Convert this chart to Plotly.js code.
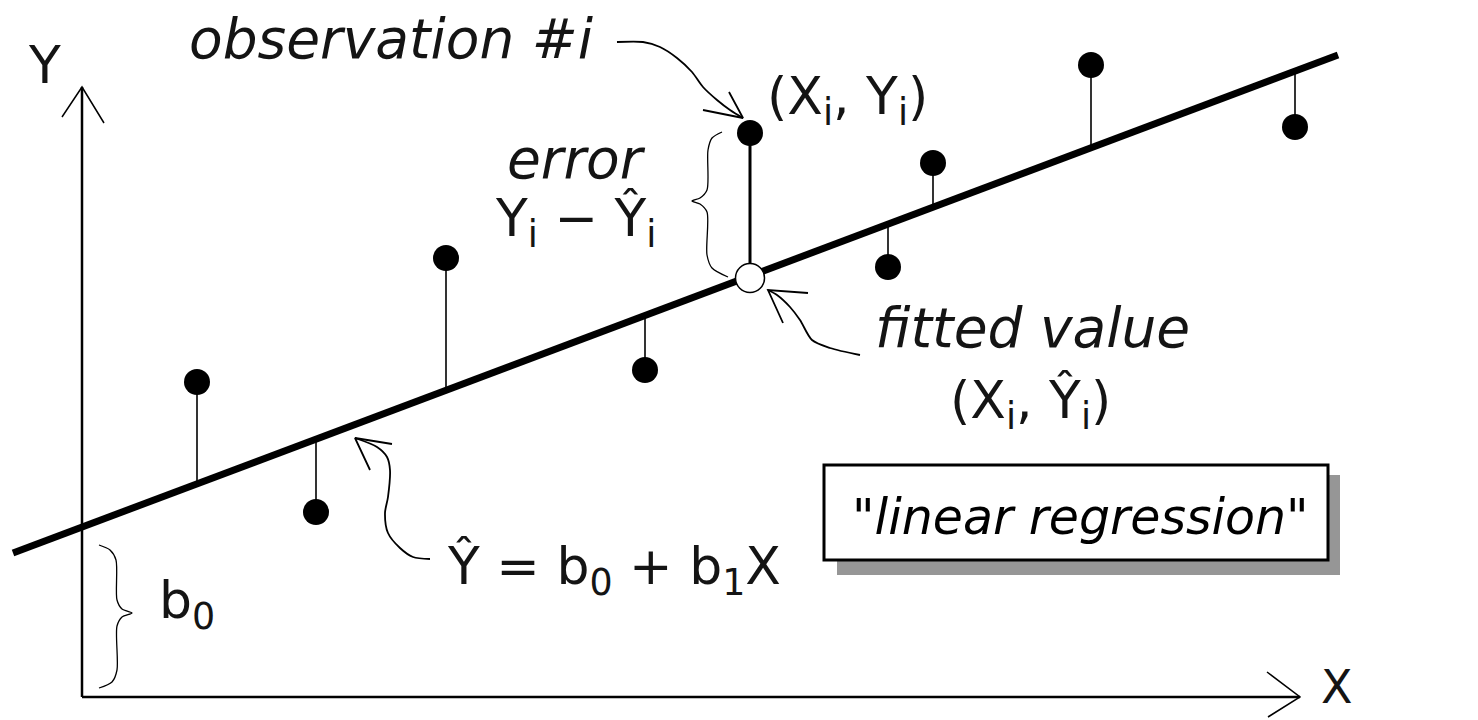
<!DOCTYPE html>
<html>
<head>
<meta charset="utf-8">
<script src="https://cdn.plot.ly/plotly-3.0.1.min.js"></script>
<style>
  html, body { margin: 0; padding: 0; background: #fff; }
  #regChart { width: 1478px; height: 720px; }
</style>
</head>
<body>
<div id="regChart"></div>
<script>
// observations (X_i, Y_i) and the fitted values under each of them
var obsX = [1.15, 2.34, 3.64, 5.63, 6.68, 8.06, 8.51, 10.09, 12.13];
var obsY = [3.15, 1.85, 4.39, 3.27, 5.64, 4.30, 5.34, 6.32, 5.70];
var fitY = [2.13, 2.58, 3.07, 3.82, 4.19, 4.73, 4.90, 5.49, 6.26];
var iObs = 4;   // "observation #i"

// regression line ends
var lineX = [-0.69, 12.56];
var lineY = [1.44, 6.42];

// axes (origin at 0,0) and their open arrow heads
var axisX = [0, 0, null, 0, 12.18];
var axisY = [6.10, 0, null, 0, 0];
var headX = [-0.20, 0, 0.22, null, 11.85, 12.18, 11.86];
var headY = [5.80, 6.10, 5.74, null, 0.25, 0, -0.20];

// curly braces: error and intercept b0
var braceErrX = [6.40, 6.30, 6.26, 6.25, 6.18, 6.10, 6.18, 6.25, 6.25, 6.30, 6.46];
var braceErrY = [5.65, 5.59, 5.47, 5.07, 4.99, 4.96, 4.93, 4.85, 4.42, 4.29, 4.20];
var braceB0X = [0.17, 0.28, 0.34, 0.35, 0.40, 0.50, 0.40, 0.35, 0.35, 0.30, 0.17];
var braceB0Y = [1.52, 1.47, 1.37, 0.97, 0.88, 0.84, 0.80, 0.71, 0.27, 0.15, 0.09];

// hand drawn pointer curves
var ptrObsX = [5.35, 5.61, 5.78, 5.95, 6.10, 6.21, 6.35, 6.48, 6.61];
var ptrObsY = [6.55, 6.55, 6.50, 6.39, 6.25, 6.10, 5.97, 5.87, 5.79];
var ptrObsHeadX = [6.21, 6.61, 6.47];
var ptrObsHeadY = [5.87, 5.79, 6.05];

var ptrFitX = [7.78, 7.48, 7.30, 7.18, 7.08, 6.95, 6.86];
var ptrFitY = [3.42, 3.49, 3.57, 3.77, 3.90, 4.02, 4.07];
var ptrFitHeadX = [7.26, 6.86, 7.01];
var ptrFitHeadY = [4.04, 4.07, 3.74];

var ptrLineX = [3.48, 3.31, 3.18, 3.06, 3.03, 3.06, 3.08, 3.05, 2.95, 2.73];
var ptrLineY = [1.38, 1.40, 1.49, 1.64, 1.84, 2.00, 2.27, 2.40, 2.50, 2.59];
var ptrLineHeadX = [3.10, 2.73, 2.88];
var ptrLineHeadY = [2.53, 2.59, 2.27];

function regChart(){

    REGCHART = document.getElementById('regChart');

    var stemX = [], stemY = [];
    for (var i = 0; i < obsX.length; i++) {
        if (i === iObs) continue;
        stemX.push(obsX[i], obsX[i], null);
        stemY.push(fitY[i], obsY[i], null);
    }

    var ink = 'rgb(0,0,0)';
    var txt = 'rgb(20,20,20)';
    var mathFont = {family: 'DejaVu Sans, sans-serif', size: 52, color: txt};
    var noteFont = {family: 'DejaVu Sans, sans-serif', size: 55, color: txt};

    var axisTrace = {
        x: axisX, y: axisY, mode: 'lines',
        line: {color: ink, width: 2.5}
    };
    var headTrace = {
        x: headX, y: headY, mode: 'lines',
        line: {color: ink, width: 1.5}
    };
    var lineTrace = {
        x: lineX, y: lineY, mode: 'lines',
        line: {color: ink, width: 7}
    };
    var stemTrace = {
        x: stemX, y: stemY, mode: 'lines',
        line: {color: ink, width: 1.6}
    };
    var stemITrace = {
        x: [obsX[iObs], obsX[iObs]], y: [fitY[iObs], obsY[iObs]], mode: 'lines',
        line: {color: ink, width: 3}
    };
    var pointTrace = {
        x: obsX, y: obsY, mode: 'markers',
        marker: {color: ink, size: 26}
    };
    var fittedTrace = {
        x: [obsX[iObs]], y: [fitY[iObs]], mode: 'markers',
        marker: {color: 'white', size: 29, line: {color: ink, width: 1.5}}
    };

    function curve(xs, ys, w){
        return {x: xs, y: ys, mode: 'lines',
            line: {color: ink, width: w, shape: 'spline', smoothing: 0.8}};
    }
    function head(xs, ys){
        return {x: xs, y: ys, mode: 'lines', line: {color: ink, width: 1.8}};
    }

    var regData = [
        axisTrace, headTrace, lineTrace, stemTrace, stemITrace, pointTrace, fittedTrace,
        curve(braceErrX, braceErrY, 1.3), curve(braceB0X, braceB0Y, 1.3),
        curve(ptrObsX, ptrObsY, 1.8), head(ptrObsHeadX, ptrObsHeadY),
        curve(ptrFitX, ptrFitY, 1.8), head(ptrFitHeadX, ptrFitHeadY),
        curve(ptrLineX, ptrLineY, 1.8), head(ptrLineHeadX, ptrLineHeadY)
    ];

    var reglayout = {
        showlegend: false,
        width: 1478,
        height: 720,
        margin: {"l": 0, "r": 0, "t": 0, "b": 0},
        paper_bgcolor: 'rgb(255,255,255)',
        plot_bgcolor: 'rgb(255,255,255)',
        hovermode: false,
        xaxis: {range: [-0.82, 13.96], visible: false, fixedrange: true},
        yaxis: {range: [-0.23, 6.97], visible: false, fixedrange: true},
        shapes: [
            // dithered drop shadow, then the label box
            {type: 'rect', xref: 'x', yref: 'y', x0: 7.55, x1: 12.58, y0: 1.22, y1: 2.22,
                fillcolor: 'rgb(150,150,150)', line: {width: 0}, layer: 'below'},
            {type: 'rect', xref: 'x', yref: 'y', x0: 7.42, x1: 12.46, y0: 1.37, y1: 2.32,
                fillcolor: 'white', line: {color: ink, width: 3}, layer: 'below'}
        ],
        annotations: [
            {text: 'Y', x: -0.38, y: 6.32, font: mathFont},
            {text: 'X', x: 12.55, y: 0.10, font: {family: 'DejaVu Sans, sans-serif', size: 46, color: txt}},
            {text: '<i>observation #i</i>', x: 1.05, y: 6.58, xanchor: 'left', font: noteFont},
            {text: '(X<sub>i</sub>, Y<sub>i</sub>)', x: 6.83, y: 5.97, xanchor: 'left', font: mathFont},
            {text: '<i>error</i>', x: 4.23, y: 5.38, xanchor: 'left', font: noteFont},
            {text: 'Y<sub>i</sub> \u2212 \u0176<sub>i</sub>', x: 4.11, y: 4.75, xanchor: 'left', font: mathFont},
            {text: '<i>fitted value</i>', x: 7.91, y: 3.69, xanchor: 'left', font: noteFont},
            {text: '(X<sub>i</sub>, \u0176<sub>i</sub>)', x: 8.66, y: 2.93, xanchor: 'left', font: mathFont},
            {text: '\u0176 = b<sub>0</sub> + b<sub>1</sub>X', x: 3.63, y: 1.27, xanchor: 'left', font: mathFont},
            {text: 'b<sub>0</sub>', x: 0.75, y: 0.93, xanchor: 'left', font: mathFont},
            {text: '<i>"linear regression"</i>', x: 9.98, y: 1.80,
                font: {family: 'DejaVu Sans, sans-serif', size: 49, color: ink}}
        ].map(function(a){ a.xref = 'x'; a.yref = 'y'; a.showarrow = false; return a; })
    };

    var regconfig = {
        displayModeBar: false,
        staticPlot: true,
    };

    Plotly.newPlot(REGCHART, regData, reglayout, regconfig);
}

regChart();
</script>
</body>
</html>
